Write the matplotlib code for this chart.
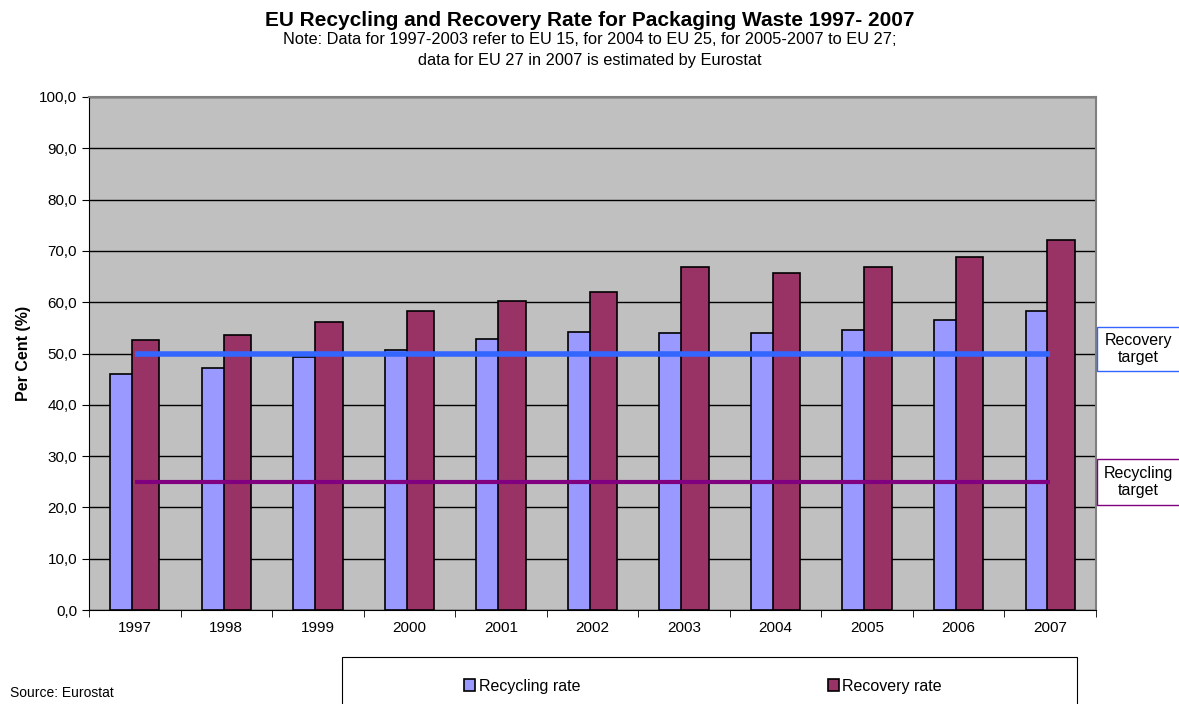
import matplotlib
matplotlib.use("Agg")
import matplotlib.pyplot as plt
import numpy as np
from matplotlib.patches import Rectangle

plt.rcParams['font.family'] = ['Liberation Sans', 'DejaVu Sans']

years = ['1997', '1998', '1999', '2000', '2001', '2002', '2003', '2004', '2005', '2006', '2007']
recycling = [46.0, 47.2, 49.4, 50.7, 52.8, 54.2, 54.0, 53.9, 54.6, 56.5, 58.3]
recovery = [52.6, 53.6, 56.2, 58.2, 60.3, 62.0, 66.9, 65.7, 66.8, 68.9, 72.2]
recovery_target = 50.0
recycling_target = 25.0
yticks = [0, 10, 20, 30, 40, 50, 60, 70, 80, 90, 100]
ytick_labels = ['0,0', '10,0', '20,0', '30,0', '40,0', '50,0', '60,0', '70,0', '80,0', '90,0', '100,0']

W, H = 1179, 704
fig = plt.figure(figsize=(W / 100, H / 100), dpi=100)
ax = fig.add_axes([89 / W, 1 - 610 / H, (1096 - 89) / W, (610 - 97) / H])
ax.set_facecolor('#C0C0C0')

x = np.arange(len(years))
bw = 0.3
off = 0.12
ax.bar(x - off, recycling, bw, color='#9999FF', edgecolor='black', linewidth=1.2,
       label='Recycling rate', zorder=3)
ax.bar(x + off, recovery, bw, color='#993366', edgecolor='black', linewidth=1.2,
       label='Recovery rate', zorder=3)

ax.plot([x[0], x[-1]], [recovery_target] * 2, color='#3366FF', linewidth=4, zorder=4,
        solid_capstyle='butt')
ax.plot([x[0], x[-1]], [recycling_target] * 2, color='#800080', linewidth=3, zorder=4,
        solid_capstyle='butt')

ax.set_xlim(-0.5, len(years) - 0.5)
ax.set_ylim(0, 100)
ax.set_yticks(yticks)
ax.set_yticklabels(ytick_labels, fontsize=11)
ax.set_xticks(x)
ax.set_xticklabels(years, fontsize=11)
ax.set_xticks(np.arange(len(years) + 1) - 0.5, minor=True)
ax.tick_params(axis='x', which='major', length=0, pad=8)
ax.tick_params(axis='x', which='minor', length=5, direction='out')
ax.tick_params(axis='y', length=5, direction='out')
ax.yaxis.grid(True, color='black', linewidth=1, zorder=0)
ax.set_axisbelow(True)
for s in ['top', 'right']:
    ax.spines[s].set_color('#808080')
    ax.spines[s].set_linewidth(1.5)
for s in ['left', 'bottom']:
    ax.spines[s].set_color('black')

ax.set_ylabel('Per Cent (%)', fontsize=11.5, fontweight='bold', labelpad=6)

fig.text(0.5, 1 - 20 / H, 'EU Recycling and Recovery Rate for Packaging Waste 1997- 2007',
         ha='center', va='center', fontsize=15, fontweight='bold')
fig.text(0.5, 1 - 40 / H, 'Note: Data for 1997-2003 refer to EU 15, for 2004 to EU 25, for 2005-2007 to EU 27;',
         ha='center', va='center', fontsize=11.8)
fig.text(0.5, 1 - 60 / H, 'data for EU 27 in 2007 is estimated by Eurostat',
         ha='center', va='center', fontsize=11.8)

fig.text(10 / W, 1 - 693 / H, 'Source: Eurostat', ha='left', va='center', fontsize=10)

# target boxes
fig.patches.append(Rectangle((1097 / W, 1 - 371 / H), 90 / W, 44 / H, transform=fig.transFigure,
                             facecolor='white', edgecolor='#3366FF', linewidth=1))
fig.text(1138 / W, 1 - 349 / H, 'Recovery\ntarget', ha='center', va='center', fontsize=11.5,
         linespacing=1.15)
fig.patches.append(Rectangle((1097 / W, 1 - 505 / H), 90 / W, 46 / H, transform=fig.transFigure,
                             facecolor='white', edgecolor='#800080', linewidth=1))
fig.text(1138 / W, 1 - 482 / H, 'Recycling\ntarget', ha='center', va='center', fontsize=11.5,
         linespacing=1.15)

# legend box
fig.patches.append(Rectangle((342 / W, -0.01), (1077 - 342) / W, (H - 657) / H + 0.01,
                             transform=fig.transFigure, facecolor='white', edgecolor='black',
                             linewidth=0.8))
handles, labels = ax.get_legend_handles_labels()
leg = fig.legend(handles, labels, loc='center', bbox_to_anchor=(703 / W, 1 - 686 / H),
                 ncol=2, frameon=False, fontsize=11.5, columnspacing=15.5,
                 handlelength=0.7, handleheight=0.7, handletextpad=0.2)

fig.savefig('out.png', dpi=100, facecolor='white')
